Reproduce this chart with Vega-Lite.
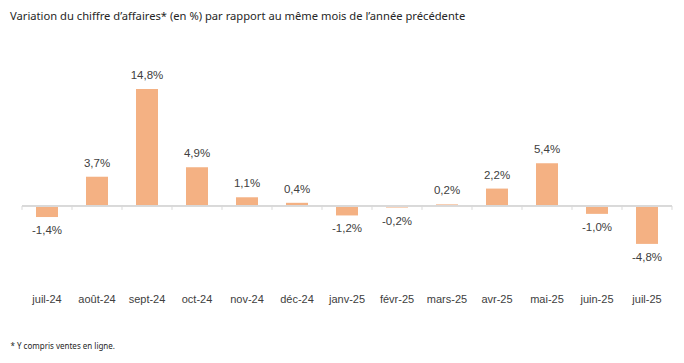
{
  "$schema": "https://vega.github.io/schema/vega-lite/v6.json",
  "autosize": "none",
  "width": 650,
  "height": 245,
  "padding": {"left": 22, "top": 40, "right": 12, "bottom": 78},
  "background": "white",
  "config": {
    "view": {"stroke": null},
    "locale": {"number": {"decimal": ",", "thousands": " ", "grouping": [3], "currency": ["", " €"], "minus": "-", "percent": "%"}},
    "font": "Liberation Sans"
  },
  "title": {
    "text": "Variation du chiffre d’affaires* (en %) par rapport au même mois de l’année précédente",
    "anchor": "start",
    "offset": 18,
    "font": "Noto Sans",
    "fontSize": 11.2,
    "fontWeight": "normal",
    "color": "#262626"
  },
  "data": {
    "values": [
      {"mois": "juil-24", "v": -0.014},
      {"mois": "août-24", "v": 0.037},
      {"mois": "sept-24", "v": 0.148},
      {"mois": "oct-24", "v": 0.049},
      {"mois": "nov-24", "v": 0.011},
      {"mois": "déc-24", "v": 0.004},
      {"mois": "janv-25", "v": -0.012},
      {"mois": "févr-25", "v": -0.002},
      {"mois": "mars-25", "v": 0.002},
      {"mois": "avr-25", "v": 0.022},
      {"mois": "mai-25", "v": 0.054},
      {"mois": "juin-25", "v": -0.010},
      {"mois": "juil-25", "v": -0.048}
    ]
  },
  "layer": [
    {
      "mark": {"type": "bar", "color": "#F4B183"},
      "encoding": {
        "x": {
          "field": "mois", "type": "nominal", "sort": null,
          "scale": {"paddingInner": 0.56, "paddingOuter": 0.28},
          "axis": {
            "orient": "bottom", "title": "* Y compris ventes en ligne.",
            "domain": false, "ticks": false, "labelAngle": 0,
            "labelFontSize": 11, "labelColor": "#404040", "labelPadding": 8,
            "titleAnchor": "start", "titleAlign": "left", "titleX": -12, "titleY": 61,
            "titleBaseline": "middle", "titleFont": "Noto Sans", "titleFontSize": 8,
            "titleFontWeight": "normal", "titleColor": "#262626"
          }
        },
        "y": {
          "field": "v", "type": "quantitative",
          "scale": {"domain": [-0.10, 0.21], "nice": false, "zero": true},
          "axis": null
        }
      }
    },
    {
      "mark": {"type": "rule", "color": "#D9D9D9", "strokeWidth": 1},
      "encoding": {"y": {"datum": 0, "type": "quantitative"}}
    },
    {
      "mark": {"type": "rule", "color": "#D9D9D9", "strokeWidth": 1},
      "encoding": {
        "x": {"field": "mois", "type": "nominal", "sort": null, "bandPosition": -0.636},
        "y": {"datum": 0, "type": "quantitative"},
        "y2": {"datum": -0.005}
      }
    },
    {
      "transform": [{"filter": "datum.mois == 'juil-25'"}],
      "mark": {"type": "rule", "color": "#D9D9D9", "strokeWidth": 1},
      "encoding": {
        "x": {"field": "mois", "type": "nominal", "sort": null, "bandPosition": 1.636},
        "y": {"datum": 0, "type": "quantitative"},
        "y2": {"datum": -0.005}
      }
    },
    {
      "transform": [{"filter": "datum.v >= 0"}],
      "mark": {"type": "text", "baseline": "bottom", "dy": -8, "fontSize": 11.5, "color": "#404040"},
      "encoding": {
        "x": {"field": "mois", "type": "nominal", "sort": null},
        "y": {"field": "v", "type": "quantitative"},
        "text": {"field": "v", "type": "quantitative", "format": ".1%"}
      }
    },
    {
      "transform": [{"filter": "datum.v < 0"}],
      "mark": {"type": "text", "baseline": "top", "dy": 8, "fontSize": 11.5, "color": "#404040"},
      "encoding": {
        "x": {"field": "mois", "type": "nominal", "sort": null},
        "y": {"field": "v", "type": "quantitative"},
        "text": {"field": "v", "type": "quantitative", "format": ".1%"}
      }
    }
  ]
}
